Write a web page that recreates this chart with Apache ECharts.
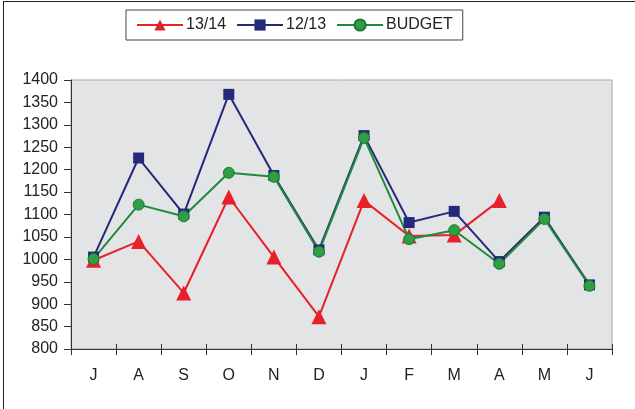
<!DOCTYPE html>
<html>
<head>
<meta charset="utf-8">
<script src="https://cdn.jsdelivr.net/npm/echarts@6/dist/echarts.min.js"></script>
<style>
  html, body { margin: 0; padding: 0; background: #fff; }
  #chart { width: 635px; height: 409px; }
</style>
</head>
<body>
<div id="chart"></div>
<script>
  // months, July to June
  const months = ['J', 'A', 'S', 'O', 'N', 'D', 'J', 'F', 'M', 'A', 'M', 'J']
  const season1314 = [998, 1040, 925, 1139, 1005, 872, 1131, 1052, 1054, 1131, null, null]
  const season1213 = [1005, 1226, 1101, 1368, 1187, 1021, 1276, 1082, 1107, 995, 1094, 943]
  const budget = [1001, 1122, 1096, 1193, 1184, 1017, 1271, 1045, 1065, 990, 1090, 941]

  const chart = echarts.init(document.getElementById('chart'))
  const textFont = { fontFamily: 'Liberation Sans, Arial, sans-serif', fontSize: 16, color: '#222' }

  let option = {
    animation: false,
    backgroundColor: '#fff',
    grid: { left: 71, right: 23, top: 80, bottom: 60, show: true, backgroundColor: '#e3e4e6', borderColor: '#a8a8a8', borderWidth: 1 },
    legend: {
      top: 10,
      left: 126,
      itemWidth: 46,
      itemHeight: 14,
      itemGap: 10,
      padding: [7, 10, 7, 10],
      borderColor: '#444',
      borderWidth: 1,
      textStyle: Object.assign({}, textFont, { padding: [0, 0, 0, -2] }),
      data: ['13/14', '12/13', 'BUDGET']
    },
    xAxis: [{
      type: 'category',
      data: months,
      boundaryGap: true,
      axisLine: { lineStyle: { color: '#333', width: 1 } },
      axisTick: { show: true, length: 6, lineStyle: { color: '#333' } },
      axisLabel: Object.assign({ margin: 19 }, textFont),
      splitLine: { show: false }
    }, {
      type: 'category',
      data: months,
      position: 'bottom',
      boundaryGap: true,
      axisLine: { show: false },
      axisTick: { show: true, inside: true, length: 5, lineStyle: { color: '#333' } },
      axisLabel: { show: false },
      splitLine: { show: false }
    }],
    yAxis: {
      type: 'value',
      min: 800,
      max: 1400,
      interval: 50,
      axisLine: { show: true, lineStyle: { color: '#333', width: 1 } },
      axisTick: { show: true, length: 7, lineStyle: { color: '#333' } },
      axisLabel: Object.assign({ margin: 13, formatter: v => String(v) }, textFont),
      splitLine: { show: false }
    },
    graphic: [
      { type: 'line', shape: { x1: 3, y1: 1.5, x2: 635, y2: 1.5 }, style: { stroke: '#222', lineWidth: 1 } },
      { type: 'line', shape: { x1: 3.5, y1: 1, x2: 3.5, y2: 409 }, style: { stroke: '#222', lineWidth: 1 } }
    ],
    series: [
      {
        name: '13/14',
        type: 'line',
        data: season1314,
        symbol: 'triangle',
        symbolSize: 15,
        color: '#e8202a',
        lineStyle: { width: 2 },
        itemStyle: { color: '#e8202a' }
      },
      {
        name: '12/13',
        type: 'line',
        data: season1213,
        symbol: 'rect',
        symbolSize: 11,
        color: '#25297a',
        lineStyle: { width: 2 },
        itemStyle: { color: '#25297a' }
      },
      {
        name: 'BUDGET',
        type: 'line',
        data: budget,
        symbol: 'circle',
        symbolSize: 11,
        color: '#1f8a3b',
        lineStyle: { width: 2, color: '#1f8a3b' },
        itemStyle: { color: '#2f9e45', borderColor: '#1c7a34', borderWidth: 1 }
      }
    ]
  }
  chart.setOption(option)
</script>
</body>
</html>
